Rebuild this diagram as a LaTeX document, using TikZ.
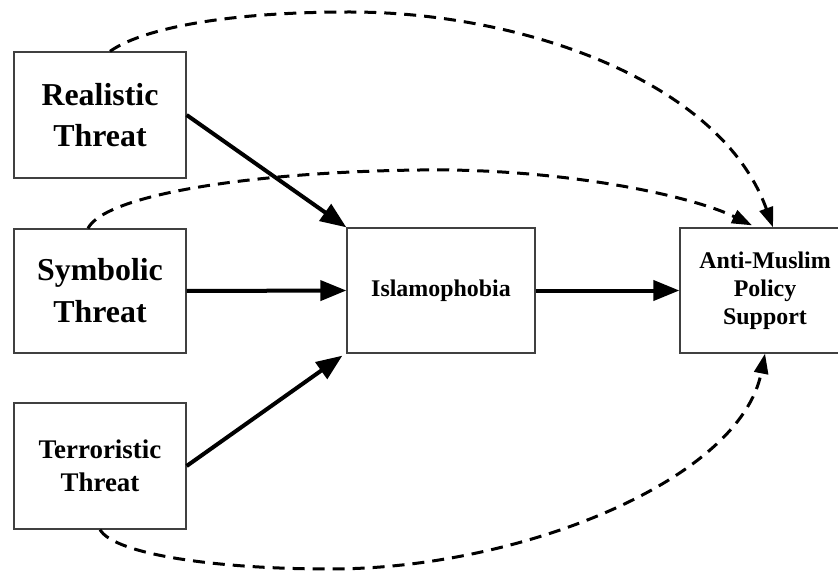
\documentclass[tikz,border=0pt]{standalone}
\usepackage{fontspec}
\setmainfont{Liberation Serif}
\usetikzlibrary{arrows.meta}
\begin{document}
\begin{tikzpicture}[x=1bp,y=-1bp,
  box/.style={draw=black!75,line width=1.3bp,rectangle,inner sep=0pt,align=center,font=\bfseries},
  solidarrow/.style={line width=4bp,-{Triangle[length=26bp,width=20bp]}},
  dasharrow/.style={line width=3bp,dash pattern=on 12bp off 8bp,-{Triangle[length=20bp,width=14bp]}}]
\useasboundingbox (0,0) rectangle (838,575);
\node[box,minimum width=172bp,minimum height=126bp,font=\bfseries\fontsize{32}{41}\selectfont] (realistic) at (100,115) {Realistic\\Threat};
\node[box,minimum width=172bp,minimum height=124bp,font=\bfseries\fontsize{32}{42}\selectfont] (symbolic) at (100,291) {Symbolic\\Threat};
\node[box,minimum width=172bp,minimum height=126bp,font=\bfseries\fontsize{27}{33}\selectfont] (terror) at (100,466) {Terroristic\\Threat};
\node[box,minimum width=188bp,minimum height=125bp,font=\bfseries\fontsize{24}{28}\selectfont] (islam) at (441,290.5) {Islamophobia};
\node[box,minimum width=170bp,minimum height=125bp,font=\bfseries\fontsize{24}{28}\selectfont] (anti) at (765,290.5) {Anti-Muslim\\Policy\\Support};
\draw[solidarrow] (realistic.east) -- (islam.north west);
\draw[solidarrow] (symbolic.east) -- (islam.west);
\draw[solidarrow] (terror.east) -- ([xshift=-4bp,yshift=-2bp]islam.south west);
\draw[solidarrow] (islam.east) -- (anti.west);
\coordinate (p1) at (350,12);
\coordinate (p2) at (420,170);
\coordinate (p3) at (330,569);
\draw[dasharrow] ([xshift=10bp]realistic.north) .. controls (140,30) and (220,12) .. (p1)
  .. controls (520,12) and (720,80) .. ([xshift=8bp]anti.north);
\draw[dasharrow] ([xshift=-12bp]symbolic.north) .. controls (105,195) and (250,172) .. (p2)
  .. controls (560,168) and (690,195) .. ([xshift=-13bp,yshift=2bp]anti.north);
\draw[dasharrow] (terror.south) .. controls (115,555) and (220,569) .. (p3)
  .. controls (520,569) and (740,480) .. (anti.south);
\end{tikzpicture}
\end{document}
